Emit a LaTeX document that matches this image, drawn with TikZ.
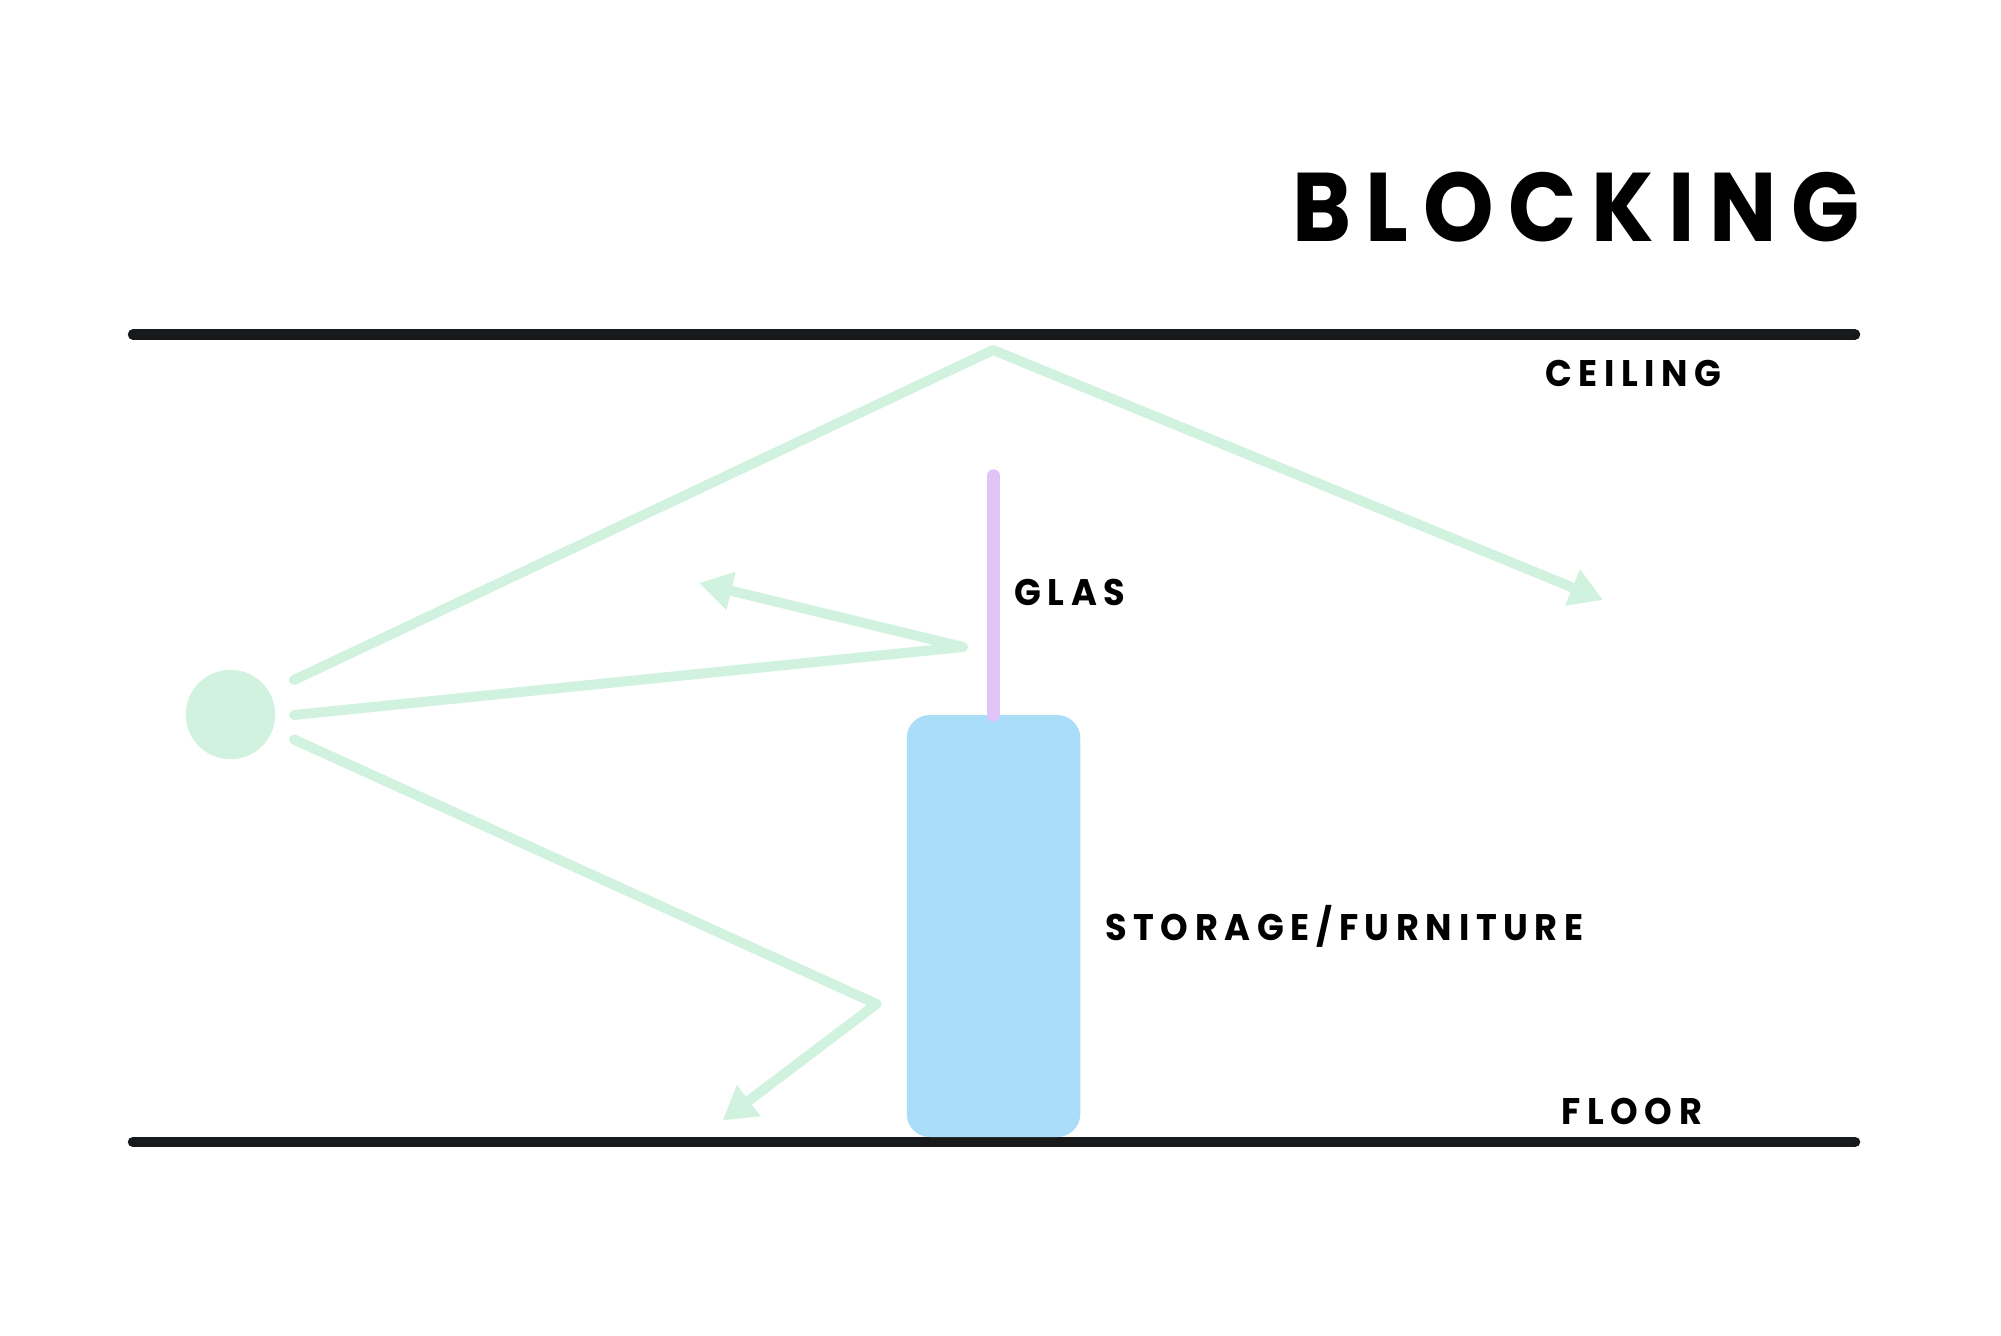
\documentclass[tikz,border=0pt]{standalone}
\usepackage{fontspec}
\usetikzlibrary{arrows.meta}
\newfontfamily\titlefont{Poppins}[LetterSpace=15,FakeStretch=0.92]
\newfontfamily\labfont{Poppins}[LetterSpace=18,FakeStretch=0.95]
\definecolor{raygreen}{RGB}{208,242,223}
\definecolor{storeblue}{RGB}{170,221,248}
\definecolor{glaspurple}{RGB}{225,195,247}
\definecolor{linedark}{RGB}{24,25,27}
\begin{document}
\begin{tikzpicture}[x=1pt,y=-1pt,
  bound/.style={line width=10.5pt,draw=linedark,line cap=round},
  ray/.style={line width=10pt,draw=raygreen,line cap=round,line join=round,
    -{Triangle[length=33pt,width=37pt]}},
  lab/.style={anchor=base west,inner sep=0pt,font=\labfont\bfseries\fontsize{37}{37}\selectfont},
]
\useasboundingbox (0,0) rectangle (2001,1335);
% ceiling and floor
\coordinate (ceilL) at (133,334.5);
\coordinate (ceilR) at (1855,334.5);
\coordinate (floorL) at (133,1142);
\coordinate (floorR) at (1855,1142);
\draw[bound] (ceilL) -- (ceilR);
\draw[bound] (floorL) -- (floorR);
% storage block
\node[draw=none,fill=storeblue,rounded corners=23pt,minimum width=173.5pt,minimum height=422pt,inner sep=0pt] (store) at (993.5,926) {};
% glass
\coordinate (glastop) at (993.5,476);
\draw[line width=13.5pt,draw=glaspurple,line cap=round] (glastop) -- (store.north);
% source
\node[circle,fill=raygreen,minimum size=89.4pt,inner sep=0pt] (src) at (230.5,714.5) {};
% ray coordinates
\coordinate (s1) at (294,680);
\coordinate (s2) at (294,715);
\coordinate (s3) at (294,739.5);
\coordinate (peak) at (993,350);
\coordinate (t1) at (1603,600);
\coordinate (r2) at (963,647);
\coordinate (t2) at (699,583);
\coordinate (r3) at (876.5,1004);
\coordinate (t3) at (722.5,1120.5);
\draw[ray] (s1) -- (peak) -- (t1);
\draw[ray] (s2) -- (r2) -- (t2);
\draw[ray] (s3) -- (r3) -- (t3);
% texts
\node[anchor=base west,inner sep=0pt,font=\titlefont\bfseries\fontsize{97.5}{97.5}\selectfont] (title) at (1292,241) {BLOCKING};
\node[lab] (ceiling) at (1545,386.7) {CEILING};
\node[lab] (floor) at (1561,1124) {FLOOR};
\node[lab] (glas) at (1014,605.7) {GLAS};
\node[lab] (storage) at (1105,940) {STORAGE/FURNITURE};
\end{tikzpicture}
\end{document}
